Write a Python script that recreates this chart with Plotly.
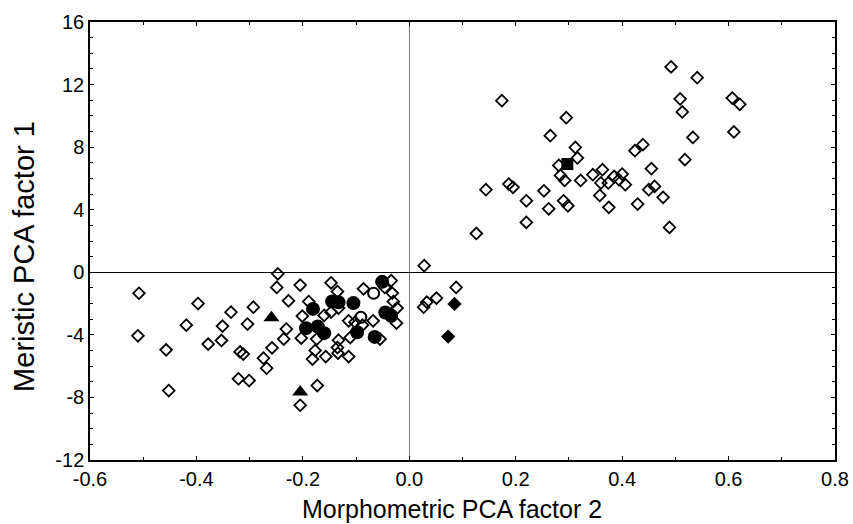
import plotly.graph_objects as go

# Open diamonds (main group)
dia_x = [-0.247, -0.249, -0.508, -0.397, -0.335, -0.293, -0.419, -0.351, -0.304, -0.510,
         -0.378, -0.353, -0.318, -0.312, -0.258, -0.274, -0.268, -0.457, -0.321, -0.301,
         -0.452, -0.205, -0.227, -0.147, -0.135, -0.189, -0.086, -0.034, -0.046, -0.032,
         -0.030, -0.023, -0.024, -0.201, -0.160, -0.147, -0.133, -0.114, -0.102, -0.088,
         -0.068, -0.055, -0.231, -0.236, -0.203, -0.174, -0.133, -0.111, -0.177, -0.182,
         -0.157, -0.135, -0.134, -0.114, -0.173, -0.205, 0.028, 0.088, 0.051, 0.033,
         0.027,
         0.174, 0.295, 0.265, 0.312, 0.316, 0.281, 0.284, 0.292, 0.322, 0.345,
         0.363, 0.360, 0.374, 0.385, 0.400, 0.394, 0.406, 0.358, 0.375, 0.424,
         0.439, 0.455, 0.450, 0.461, 0.477, 0.429, 0.253, 0.262, 0.290, 0.298,
         0.144, 0.187, 0.195, 0.220, 0.220, 0.126, 0.492, 0.541, 0.509, 0.513,
         0.607, 0.621, 0.610, 0.533, 0.518, 0.489]
dia_y = [-0.10, -0.97, -1.34, -2.00, -2.55, -2.23, -3.38, -3.44, -3.31, -4.06,
         -4.59, -4.36, -5.09, -5.23, -4.83, -5.49, -6.13, -4.96, -6.81, -6.92,
         -7.56, -0.82, -1.82, -0.67, -1.23, -1.87, -1.06, -0.54, -0.97, -1.33,
         -1.87, -2.29, -3.25, -2.80, -2.76, -2.55, -2.29, -3.10, -3.19, -3.38,
         -3.10, -4.27, -3.63, -4.27, -4.21, -4.27, -4.34, -4.17, -5.00, -5.55,
         -5.39, -4.81, -5.17, -5.39, -7.24, -8.50, 0.42, -0.97, -1.65, -1.91,
         -2.23,
         10.97, 9.88, 8.73, 7.98, 7.31, 6.83, 6.19, 5.87, 5.87, 6.24,
         6.56, 5.71, 5.71, 6.13, 6.28, 5.92, 5.60, 4.91, 4.15, 7.77,
         8.16, 6.62, 5.28, 5.49, 4.79, 4.36, 5.21, 4.06, 4.57, 4.25,
         5.28, 5.64, 5.43, 4.57, 3.19, 2.48, 13.13, 12.44, 11.08, 10.25,
         11.14, 10.74, 8.97, 8.62, 7.20, 2.87]

# Filled circles
fcirc_x = [-0.051, -0.181, -0.145, -0.133, -0.105, -0.045, -0.034, -0.194, -0.172, -0.160, -0.098, -0.065]
fcirc_y = [-0.61, -2.34, -1.87, -1.92, -1.97, -2.57, -2.78, -3.57, -3.47, -3.89, -3.83, -4.13]

# Open circles
ocirc_x = [-0.067, -0.091]
ocirc_y = [-1.34, -2.88]

# Filled triangles
tri_x = [-0.259, -0.205]
tri_y = [-2.91, -7.66]

# Filled diamonds
fdia_x = [0.085, 0.073]
fdia_y = [-2.02, -4.11]

# Filled square
sq_x = [0.297]
sq_y = [6.92]

x_ticks = [-0.6, -0.4, -0.2, 0.0, 0.2, 0.4, 0.6, 0.8]
y_ticks = [-12, -8, -4, 0, 4, 8, 12, 16]
x_title = "Morphometric PCA factor 2"
y_title = "Meristic PCA factor 1"

fig = go.Figure()
fig.add_trace(go.Scatter(x=dia_x, y=dia_y, mode="markers",
                         marker=dict(symbol="diamond-open", size=9, color="black",
                                     line=dict(width=1.8, color="black"))))
fig.add_trace(go.Scatter(x=fcirc_x, y=fcirc_y, mode="markers",
                         marker=dict(symbol="circle", size=14, color="black")))
fig.add_trace(go.Scatter(x=ocirc_x, y=ocirc_y, mode="markers",
                         marker=dict(symbol="circle-open", size=11, color="black",
                                     line=dict(width=2, color="black"))))
fig.add_trace(go.Scatter(x=tri_x, y=tri_y, mode="markers",
                         marker=dict(symbol="triangle-up", size=14, color="black")))
fig.add_trace(go.Scatter(x=fdia_x, y=fdia_y, mode="markers",
                         marker=dict(symbol="diamond", size=11, color="black")))
fig.add_trace(go.Scatter(x=sq_x, y=sq_y, mode="markers",
                         marker=dict(symbol="square", size=12, color="black")))

fig.update_layout(
    width=853, height=524,
    margin=dict(l=90, r=18, t=22, b=64),
    paper_bgcolor="white", plot_bgcolor="white",
    showlegend=False,
    font=dict(family="Liberation Sans, Arial, sans-serif", color="black", size=20),
    annotations=[
        dict(text=x_title, xref="paper", yref="paper", x=0.486, y=-0.112,
             xanchor="center", yanchor="middle", showarrow=False,
             font=dict(size=25, color="black")),
        dict(text=y_title, xref="paper", yref="paper", x=-0.0886, y=0.466,
             xanchor="center", yanchor="middle", showarrow=False, textangle=-90,
             font=dict(size=29, color="black")),
    ],
)
fig.update_xaxes(
    range=[-0.6, 0.8], tickvals=x_ticks, ticktext=[f"{v:.1f}" for v in x_ticks],
    showgrid=False, zeroline=True, zerolinecolor="#777777", zerolinewidth=1,
    showline=True, linecolor="black", linewidth=1.5, mirror="allticks",
    ticks="inside", ticklen=4, tickcolor="black", ticklabelstandoff=0,
    ticklabeloverflow="allow",
    minor=dict(dtick=0.1, tick0=0, ticks="inside", ticklen=3, tickcolor="black"),
    tickfont=dict(size=20), automargin=False,
)
fig.update_yaxes(
    range=[-12, 16], tickvals=y_ticks, ticktext=[str(v) for v in y_ticks],
    showgrid=False, zeroline=True, zerolinecolor="black", zerolinewidth=1,
    showline=True, linecolor="black", linewidth=1.5, mirror="allticks",
    ticks="inside", ticklen=4, tickcolor="black", ticklabelstandoff=0,
    minor=dict(dtick=1, tick0=0, ticks="inside", ticklen=3, tickcolor="black"),
    tickfont=dict(size=20), automargin=False,
)

fig.write_html("out.html",
               config={"displayModeBar": False},
               post_script="document.body.style.margin='0';"
                           "document.documentElement.style.overflow='hidden';"
                           "document.body.style.overflow='hidden';")
